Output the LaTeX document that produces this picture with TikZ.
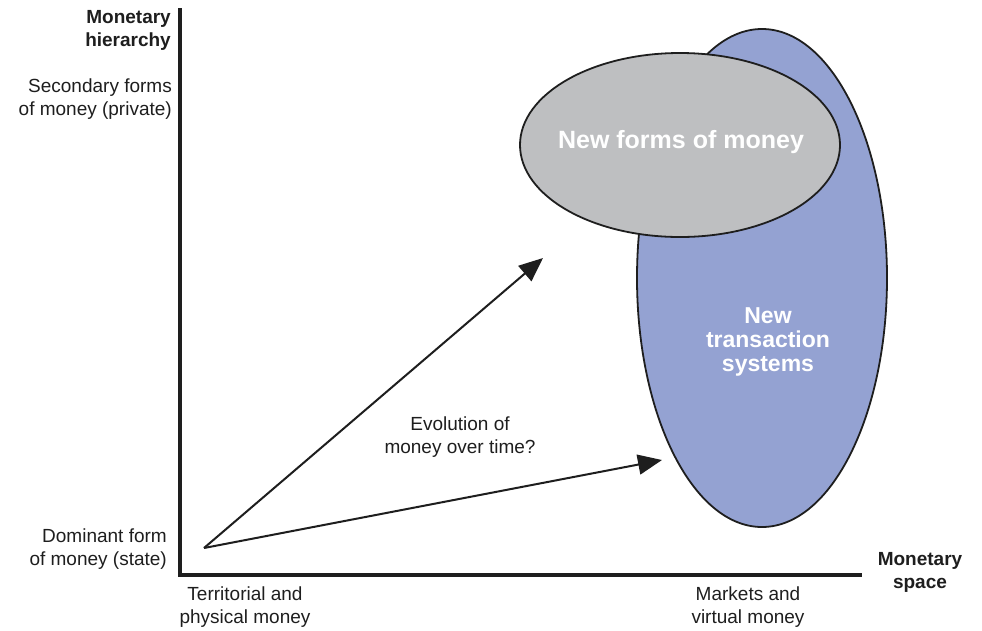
\documentclass[tikz,border=0pt]{standalone}
\usepackage{fontspec}
\setmainfont{Liberation Sans}
\usetikzlibrary{shapes.geometric, arrows.meta, positioning}
\definecolor{txblue}{RGB}{148,162,210}
\definecolor{nfgray}{RGB}{190,191,193}
\definecolor{ink}{RGB}{30,30,30}

\begin{document}
\begin{tikzpicture}[
        x=1pt, y=-1pt,
        axis/.style={line width=4pt, draw=ink},
        arrow/.style={-{Triangle[length=24pt, width=20pt]}, line width=2pt, draw=ink, fill=ink},
        blob/.style={ellipse, draw=ink, line width=1.8pt, inner sep=0pt},
        axislabel/.style={text=ink, font=\fontsize{19}{23}\selectfont, align=center, inner sep=0pt},
        axistitle/.style={axislabel, font=\fontsize{19}{23}\selectfont\bfseries},
        inlabel/.style={text=white, font=\fontsize{23}{24}\selectfont\bfseries, align=center, inner sep=0pt}
    ]
        \useasboundingbox (0,0) rectangle (982,630);

        % axes
        \coordinate (top) at (180,8);
        \coordinate (corner) at (180,575);
        \coordinate (right) at (862,575);
        \draw[axis] (top) -- (corner) -- (right);

        % the two areas
        \node[blob, fill=txblue, minimum width=250pt, minimum height=498pt] (transaction) at (762,278) {};
        \node[blob, fill=nfgray, minimum width=320pt, minimum height=184pt] (newforms) at (680,145) {};
        \node[inlabel, font=\fontsize{25}{26}\selectfont\bfseries] (formslabel) at (681,142) {New forms of money};
        \node[inlabel] (systems) at (768,342) {New\\transaction\\systems};

        % evolution
        \coordinate (origin) at (204,548);
        \coordinate (up) at (543,258);
        \coordinate (across) at (662,460);
        \draw[arrow] (origin) -- (up);
        \draw[arrow] (origin) -- (across);
        \node[axislabel] (evolution) at (460,437) {Evolution of\\money over time?};

        % axis labels
        \node[axistitle, align=right, anchor=east] (hierarchy) at (171,30) {Monetary\\hierarchy};
        \node[axislabel, align=right, anchor=east] (secondary) at (172,99) {Secondary forms\\of money (private)};
        \node[axislabel, align=right, anchor=east] (dominant) at (167,549) {Dominant form\\of money (state)};
        \node[axislabel] (territorial) at (245,607) {Territorial and\\physical money};
        \node[axislabel] (markets) at (748,607) {Markets and\\virtual money};
        \node[axistitle] (space) at (920,572) {Monetary\\space};

    \end{tikzpicture}
\end{document}
